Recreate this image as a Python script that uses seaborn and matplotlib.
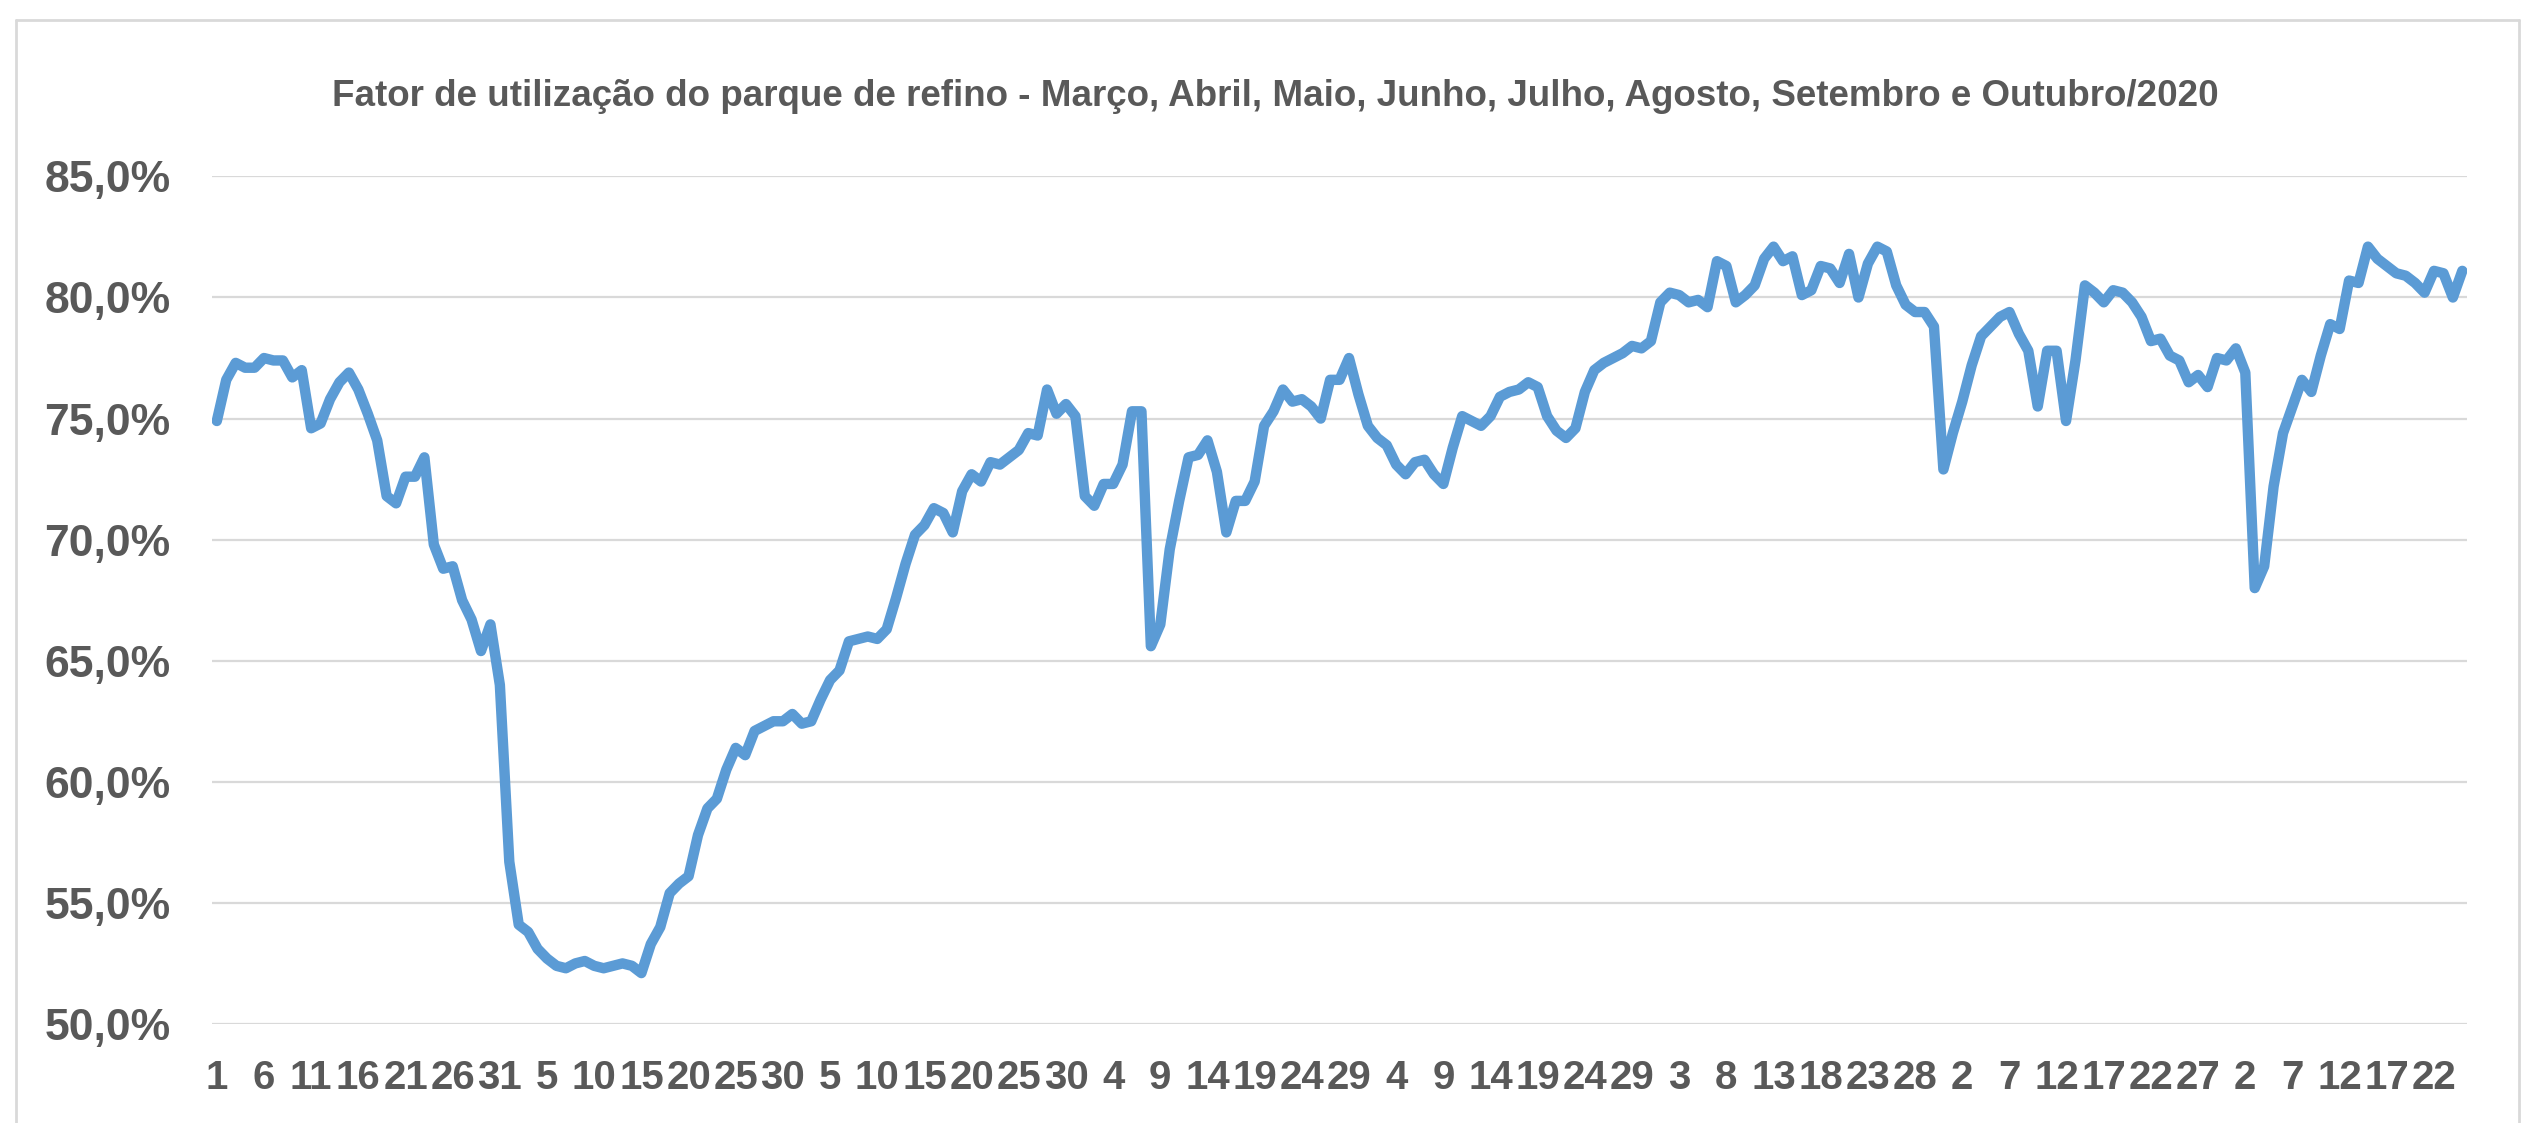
"""
Fator de utilização do parque de refino - março a outubro/2020 (dados diários).
"""
import matplotlib
matplotlib.use("Agg")
import matplotlib.pyplot as plt
from matplotlib.lines import Line2D
from matplotlib.ticker import FuncFormatter
import numpy as np
import pandas as pd
import seaborn as sns

START = "2020-03-01"

# valores diários (%), um bloco por mês
marco = [74.9, 76.6, 77.3, 77.1, 77.1, 77.5, 77.4, 77.4, 76.7, 77.0,
         74.6, 74.8, 75.8, 76.5, 76.9, 76.2, 75.2, 74.1, 71.8, 71.5,
         72.6, 72.6, 73.4, 69.8, 68.8, 68.9, 67.5, 66.7, 65.4, 66.5, 64.0]
abril = [56.7, 54.1, 53.8, 53.1, 52.7, 52.4, 52.3, 52.5, 52.6, 52.4,
         52.3, 52.4, 52.5, 52.4, 52.1, 53.3, 54.0, 55.4, 55.8, 56.1,
         57.8, 58.9, 59.3, 60.5, 61.4, 61.1, 62.1, 62.3, 62.5, 62.5]
maio = [62.8, 62.4, 62.5, 63.4, 64.2, 64.6, 65.8, 65.9, 66.0, 65.9,
        66.3, 67.6, 69.0, 70.2, 70.6, 71.3, 71.1, 70.3, 72.0, 72.7,
        72.4, 73.2, 73.1, 73.4, 73.7, 74.4, 74.3, 76.2, 75.2, 75.6, 75.1]
junho = [71.8, 71.4, 72.3, 72.3, 73.1, 75.3, 75.3, 65.6, 66.5, 69.6,
         71.6, 73.4, 73.5, 74.1, 72.8, 70.3, 71.6, 71.6, 72.4, 74.7,
         75.3, 76.2, 75.7, 75.8, 75.5, 75.0, 76.6, 76.6, 77.5, 76.0]
julho = [74.7, 74.2, 73.9, 73.1, 72.7, 73.2, 73.3, 72.7, 72.3, 73.8,
         75.1, 74.9, 74.7, 75.1, 75.9, 76.1, 76.2, 76.5, 76.3, 75.1,
         74.5, 74.2, 74.6, 76.1, 77.0, 77.3, 77.5, 77.7, 78.0, 77.9, 78.2]
agosto = [79.8, 80.2, 80.1, 79.8, 79.9, 79.6, 81.5, 81.3, 79.8, 80.1,
          80.5, 81.6, 82.1, 81.5, 81.7, 80.1, 80.3, 81.3, 81.2, 80.6,
          81.8, 80.0, 81.4, 82.1, 81.9, 80.5, 79.7, 79.4, 79.4, 78.8, 72.9]
setembro = [74.4, 75.7, 77.2, 78.4, 78.8, 79.2, 79.4, 78.5, 77.8, 75.5,
            77.8, 77.8, 74.9, 77.4, 80.5, 80.2, 79.8, 80.3, 80.2, 79.8,
            79.2, 78.2, 78.3, 77.6, 77.4, 76.5, 76.8, 76.3, 77.5, 77.4]
outubro = [77.9, 76.9, 68.0, 68.9, 72.2, 74.4, 75.5, 76.6, 76.1, 77.6,
           78.9, 78.7, 80.7, 80.6, 82.1, 81.6, 81.3, 81.0, 80.9, 80.6,
           80.2, 81.1, 81.0, 80.0, 81.1]

TITLE = ("Fator de utilização do parque de refino - Março, Abril, Maio, Junho, "
         "Julho, Agosto, Setembro e Outubro/2020")

valores = marco + abril + maio + junho + julho + agosto + setembro + outubro
datas = pd.date_range(START, periods=len(valores), freq="D")
df = pd.DataFrame({"pos": np.arange(len(valores)), "fator": valores})

sns.set_theme(style="white")
plt.rcParams["font.family"] = ["Liberation Sans", "DejaVu Sans"]

GREY = "#595959"
BLUE = "#5B9BD5"
GRID = "#D9D9D9"

fig = plt.figure(figsize=(25.22, 11.23), dpi=100)
ax = fig.add_axes([0.0841, 0.0882, 0.8941, 0.7547])

sns.lineplot(data=df, x="pos", y="fator", ax=ax, color=BLUE, linewidth=7.5,
             solid_joinstyle="round", solid_capstyle="round")

ax.set_xlim(-0.5, len(valores) - 0.5)
ax.set_ylim(50, 85)
ax.set_yticks(np.arange(50, 86, 5))
ax.yaxis.set_major_formatter(FuncFormatter(lambda v, _: f"{v:.1f}%".replace(".", ",")))

ticks = np.arange(0, len(valores), 5)
ax.set_xticks(ticks)
ax.set_xticklabels([str(datas[i].day) for i in ticks])

ax.set_xlabel("")
ax.set_ylabel("")
ax.grid(False)
ax.yaxis.grid(True, color=GRID, linewidth=1.6)
ax.set_axisbelow(True)
for s in ax.spines.values():
    s.set_visible(False)

ax.tick_params(axis="y", length=0, pad=30, labelsize=32, labelcolor=GREY)
ax.tick_params(axis="x", length=0, pad=25, labelsize=29, labelcolor=GREY)
for lbl in ax.get_xticklabels() + ax.get_yticklabels():
    lbl.set_fontweight("bold")

fig.text(0.5056, 0.914, TITLE, ha="center", va="center", fontsize=26.5,
         fontweight="bold", color=GREY)

# moldura da área do gráfico
W, H = 2522, 1123
x0, x1, ytop = 16 / W, 2519 / W, 1 - 20 / H
for xs, ys in [([x0, x1], [ytop, ytop]), ([x0, x0], [ytop, -0.01]), ([x1, x1], [ytop, -0.01])]:
    fig.add_artist(Line2D(xs, ys, transform=fig.transFigure, color=GRID, linewidth=2))

fig.savefig("out.png", dpi=100)
plt.close(fig)
